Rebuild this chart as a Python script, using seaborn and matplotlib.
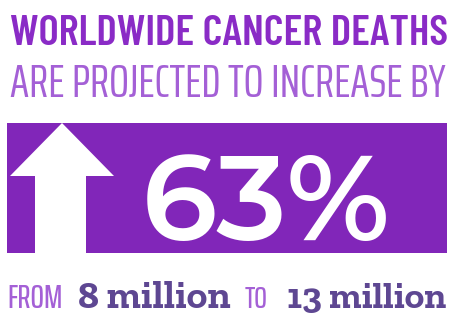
import matplotlib
matplotlib.use("Agg")
import matplotlib.pyplot as plt
import seaborn as sns
from matplotlib.patches import Rectangle, Polygon

# infographic content
headline = ["WORLDWIDE CANCER DEATHS", "ARE PROJECTED TO INCREASE BY"]
increase_pct = [63]
deaths_millions = [8, 13]      # from, to
connectors = ["FROM", "TO"]

PURPLE = "#8a2bc6"
LIGHT_PURPLE = "#a460d6"
BOX_PURPLE = "#8126b9"
DARK = "#5e4792"

sns.set_theme(style="white")
condensed = ["Barlow Condensed", "DejaVu Sans"]
narrow = ["Saira ExtraCondensed", "Barlow Condensed", "DejaVu Sans"]
geometric = ["Montserrat Alternates", "Lato", "DejaVu Sans"]
slab = ["Zilla Slab", "DejaVu Serif"]

fig = plt.figure(figsize=(4.52, 3.15), dpi=100)
ax = fig.add_axes([0, 0, 1, 1])
ax.set_xlim(0, 452)
ax.set_ylim(315, 0)
ax.axis("off")
renderer = fig.canvas.get_renderer()


def fit_text(s, x0, x1, y, **kw):
    t = ax.text(x0, y, s, fontsize=20, va="baseline", ha="left", **kw)
    w = t.get_window_extent(renderer).width
    t.set_fontsize(20 * (x1 - x0) / w)
    return t


fit_text(headline[0], 10, 447, 45, family=condensed, fontweight=600, color=PURPLE)
fit_text(headline[1], 10, 445, 97, family=narrow, fontweight=400, color=LIGHT_PURPLE)

# purple band with arrow
ax.add_patch(Rectangle((7, 123), 440, 130, color=BOX_PURPLE, lw=0))
ax.add_patch(Polygon([(62, 123), (114, 176), (86, 176), (86, 256),
                      (35, 256), (35, 176), (10, 176)], closed=True,
                     color="white", lw=0))
fit_text(f"{increase_pct[0]}%", 142, 390, 240, family=geometric,
         fontweight=600, color="white")

# bottom line
fit_text(connectors[0], 7, 63, 308, family=narrow, fontweight=500, color=LIGHT_PURPLE)
fit_text(f"{deaths_millions[0]} million", 78, 230, 308,
         family=slab, fontweight=700, color=DARK)
fit_text(connectors[1], 245, 268, 308, family=narrow, fontweight=500, color=LIGHT_PURPLE)
fit_text(f"{deaths_millions[1]} million", 287, 446, 308,
         family=slab, fontweight=700, color=DARK)

fig.savefig("out.png", dpi=100, facecolor="white")
